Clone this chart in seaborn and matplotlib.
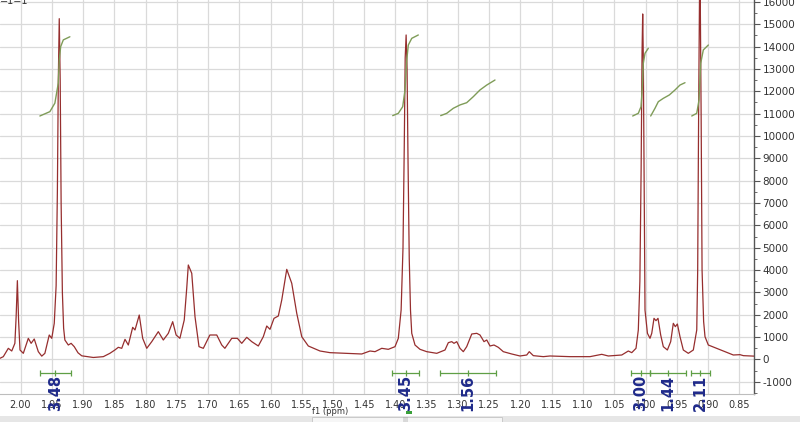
import numpy as np
import pandas as pd
import matplotlib
matplotlib.use("Agg")
import matplotlib.pyplot as plt
import matplotlib.ticker as mticker
from matplotlib.patches import Rectangle
import seaborn as sns

# 1H spectrum trace (ppm, intensity)
spec_ppm = [2.033, 2.0275, 2.0195, 2.014, 2.009, 2.007, 2.005, 2.003, 2.0008, 1.9955,
            1.9875, 1.983, 1.978, 1.9715, 1.966, 1.961, 1.954, 1.950, 1.946, 1.943,
            1.941, 1.9395, 1.938, 1.9365, 1.935, 1.933, 1.931, 1.929, 1.9235, 1.919,
            1.914, 1.908, 1.902, 1.8835, 1.8675, 1.857, 1.849, 1.8435, 1.838, 1.8328,
            1.8275, 1.8205, 1.8168, 1.810, 1.8045, 1.798, 1.790, 1.7795, 1.7715, 1.7635,
            1.7565, 1.751, 1.745, 1.738, 1.734, 1.7315, 1.726, 1.7208, 1.7144, 1.7075,
            1.697, 1.686, 1.678, 1.673, 1.662, 1.653, 1.646, 1.638, 1.630, 1.6195,
            1.6115, 1.606, 1.6008, 1.5944, 1.5875, 1.582, 1.574, 1.566, 1.558, 1.550,
            1.5395, 1.5208, 1.5048, 1.478, 1.454, 1.4408, 1.4328, 1.422, 1.4115, 1.4008,
            1.3955, 1.391, 1.388, 1.386, 1.3845, 1.383, 1.3815, 1.380, 1.378, 1.376,
            1.374, 1.3688, 1.3608, 1.350, 1.334, 1.3208, 1.3155, 1.310, 1.3064, 1.302,
            1.2968, 1.2915, 1.2861, 1.278, 1.270, 1.2648, 1.2584, 1.254, 1.2488, 1.2424,
            1.2355, 1.2275, 1.214, 1.2008, 1.190, 1.186, 1.1795, 1.1635, 1.1528, 1.1208,
            1.0888, 1.070, 1.0595, 1.038, 1.0275, 1.022, 1.0152, 1.0115, 1.009, 1.007,
            1.0055, 1.0045, 1.0035, 1.002, 1.0008, 0.9969, 0.9928, 0.990, 0.9864, 0.9832,
            0.980, 0.9757, 0.9715, 0.965, 0.9597, 0.9555, 0.9523, 0.949, 0.9448, 0.9395,
            0.9315, 0.9235, 0.918, 0.9165, 0.915, 0.913, 0.911, 0.9095, 0.907, 0.9048,
            0.8995, 0.886, 0.8728, 0.8595, 0.8488, 0.8435, 0.8328, 0.826]
spec_int = [52, 127, 500, 380, 723, 1900, 3527, 1700, 425, 276,
            947, 723, 917, 350, 150, 276, 1096, 947, 1618, 3300,
            7500, 12500, 15250, 12500, 7000, 3000, 1400, 872, 648, 723,
            574, 300, 164, 90, 127, 276, 425, 545, 500, 902,
            648, 1439, 1320, 1990, 947, 500, 798, 1245, 872, 1170,
            1692, 1096, 947, 1767, 3200, 4228, 3855, 1916, 574, 500,
            1096, 1096, 648, 500, 947, 947, 723, 992, 798, 604,
            1021, 1498, 1350, 1841, 1946, 2662, 4034, 3408, 2065, 1021,
            604, 380, 306, 276, 246, 380, 350, 500, 455, 574,
            947, 2215, 5000, 9500, 13500, 14520, 13000, 9000, 4500, 2200,
            1171, 648, 455, 350, 276, 425, 753, 798, 723, 798,
            500, 350, 574, 1141, 1171, 1096, 798, 873, 604, 648,
            544, 350, 246, 157, 201, 350, 172, 127, 157, 127,
            127, 231, 157, 201, 380, 306, 500, 1320, 3500, 8500,
            13800, 15460, 13500, 7500, 2214, 1171, 947, 1171, 1842, 1737,
            1842, 1096, 574, 425, 798, 1618, 1469, 1588, 1021, 425,
            276, 425, 1320, 4000, 11000, 18500, 11000, 4000, 1700, 1021,
            648, 500, 350, 201, 216, 172, 157, 150]

# integral curves (ppm, height on the intensity scale)
int1_ppm = [1.969, 1.953, 1.945, 1.9395, 1.938, 1.9357, 1.9315, 1.921]
int1_val = [10895, 11090, 11470, 12370, 13400, 14000, 14300, 14440]
int2_ppm = [1.4045, 1.3955, 1.3885, 1.3848, 1.382, 1.3795, 1.374, 1.3635]
int2_val = [10910, 11015, 11310, 12060, 13400, 14070, 14370, 14520]
int3_ppm = [1.3277, 1.318, 1.3075, 1.2968, 1.2861, 1.2755, 1.2648, 1.254, 1.2408]
int3_val = [10910, 11015, 11240, 11390, 11490, 11760, 12060, 12280, 12505]
int4_ppm = [1.0205, 1.0115, 1.0072, 1.005, 1.0035, 1.0008, 0.9955]
int4_val = [10895, 11015, 11310, 12210, 13250, 13700, 13925]
int5_ppm = [0.9917, 0.9848, 0.9795, 0.9715, 0.9619, 0.9528, 0.9448, 0.9368]
int5_val = [10895, 11240, 11535, 11685, 11835, 12060, 12280, 12385]
int6_ppm = [0.926, 0.918, 0.9144, 0.9117, 0.9075, 0.8995]
int6_val = [10895, 11015, 11610, 13250, 13850, 14070]

# integration ranges and their values
range_start = [1.969, 1.406, 1.3288, 1.0232, 0.9928, 0.9277]
range_end = [1.9197, 1.362, 1.2392, 0.9928, 0.9352, 0.8968]
range_label = ["3.48", "3.45", "1.56", "3.00", "1.44", "2.11"]

spec_color = "#962e2e"
int_color = "#7f9c58"
brk_color = "#5f9f45"
lab_color = "#1f2a8a"

sns.set_style("white")
plt.rcParams["axes.unicode_minus"] = False
plt.rcParams["font.family"] = ["DejaVu Sans"]

fig = plt.figure(figsize=(8.0, 4.22), dpi=100)
ax = fig.add_axes([0.0, 1 - 394 / 422, 754 / 800, 394 / 422])

spec = pd.DataFrame({"ppm": spec_ppm, "intensity": spec_int})
sns.lineplot(data=spec, x="ppm", y="intensity", ax=ax, color=spec_color,
             lw=0.9, sort=False, estimator=None, zorder=3)

for p, v in [(int1_ppm, int1_val), (int2_ppm, int2_val), (int3_ppm, int3_val),
             (int4_ppm, int4_val), (int5_ppm, int5_val), (int6_ppm, int6_val)]:
    sns.lineplot(x=p, y=v, ax=ax, color=int_color, lw=1.0, sort=False,
                 estimator=None, zorder=4)

# integration brackets under the baseline
brk_y = -590
tick_h = 140
for a, b, lab in zip(range_start, range_end, range_label):
    mid = (a + b) / 2
    ax.hlines(brk_y, b, a, color=brk_color, lw=0.9, zorder=4)
    ax.vlines([a, mid, b], brk_y - tick_h, brk_y + tick_h, color=brk_color, lw=0.9, zorder=4)
    ax.text(mid, -1480, lab, rotation=90, ha="center", va="center",
            fontsize=10.5, fontweight="bold", color=lab_color, clip_on=False, zorder=6)

ax.set_xlim(2.0328, 0.8264)
ax.set_ylim(-1544, 16085)

ax.xaxis.set_major_locator(mticker.MultipleLocator(0.05))
ax.xaxis.set_minor_locator(mticker.MultipleLocator(0.01))
ax.xaxis.set_major_formatter(mticker.FormatStrFormatter("%.2f"))
ax.yaxis.set_major_locator(mticker.MultipleLocator(1000))
ax.yaxis.set_minor_locator(mticker.MultipleLocator(500))
ax.yaxis.set_major_formatter(mticker.FormatStrFormatter("%d"))

ax.yaxis.tick_right()
ax.grid(True, which="major", color="#dadada", lw=0.9)
ax.set_axisbelow(True)

for s in ["left", "top"]:
    ax.spines[s].set_visible(False)
ax.spines["right"].set_color("#555555")
ax.spines["right"].set_linewidth(1.0)
ax.spines["bottom"].set_color("#bdbdbd")
ax.spines["bottom"].set_linewidth(0.8)

ax.tick_params(axis="x", which="major", length=3, width=0.8, color="#777777",
               labelsize=7, labelcolor="#333333", pad=1)
ax.tick_params(axis="x", which="minor", length=2, width=0.6, color="#999999")
ax.tick_params(axis="y", which="major", length=4, width=0.8, color="#555555",
               labelsize=7.5, labelcolor="#333333", pad=2, right=True, left=False)
ax.tick_params(axis="y", which="minor", length=2, width=0.6, color="#555555",
               right=True, left=False)

ax.set_xlabel("f1 (ppm)", fontsize=6, color="#333333", va="center")
ax.xaxis.set_label_coords(330 / 754, -(412 - 394) / 394)
ax.set_ylabel("")

# bits of the program window around the plot
fig.text(0.0, 0.998, "=1=1", fontsize=7, color="#333333", ha="left", va="center")
fig.patches.append(Rectangle((0, 0), 1, 6 / 422, transform=fig.transFigure,
                             facecolor="#e6e6e6", edgecolor="none", zorder=1))
fig.patches.append(Rectangle((312 / 800, 0), 190 / 800, 5.5 / 422, transform=fig.transFigure,
                             facecolor="#f6f6f6", edgecolor="#c4c4c4", lw=0.6, zorder=2))
fig.text(405 / 800, 2.5 / 422, "|||", fontsize=4, color="#888888", ha="center", va="center")
fig.patches.append(Rectangle((406 / 800, 8 / 422), 6 / 800, 3 / 422, transform=fig.transFigure,
                             facecolor="#3aa03a", edgecolor="none", zorder=2))

fig.savefig("out.png", dpi=100)
